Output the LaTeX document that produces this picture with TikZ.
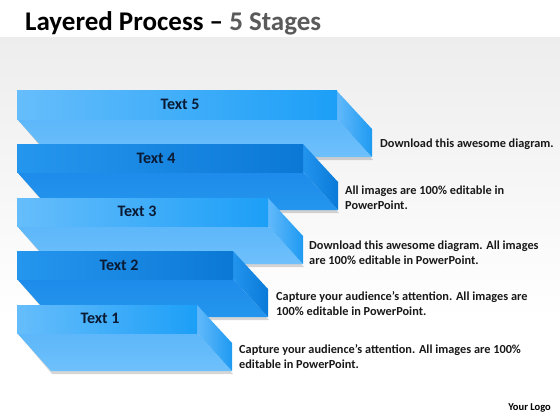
\documentclass[tikz,border=0pt]{standalone}
\usepackage{fontspec}
\setmainfont{Carlito}
\definecolor{lTopL}{HTML}{66BDFB}
\definecolor{lTopR}{HTML}{1C9FF7}
\definecolor{lBot}{HTML}{5DB7FA}
\definecolor{lBot2}{HTML}{6EC0FB}
\definecolor{lRL}{HTML}{62B9FA}
\definecolor{lRR}{HTML}{1E9AF2}
\definecolor{dTopL}{HTML}{2596EE}
\definecolor{dTopR}{HTML}{0B78D6}
\definecolor{dBot}{HTML}{1D8BEA}
\definecolor{dBot2}{HTML}{2496EE}
\definecolor{dRL}{HTML}{2294EE}
\definecolor{dRR}{HTML}{0A7AD8}
\definecolor{labelc}{HTML}{0B1A33}
\definecolor{titlegray}{HTML}{5A5A5A}
\newcommand\myslab[8]{%
  % #1 right x of front rect, #2 top y, #3 topL, #4 topR, #5 bottom face, #6 bottom face 2, #7 right L, #8 right R
  \fill[black,opacity=.16] (19,#2+30) -- (#1+2,#2+30) -- (#1+36,#2+69) -- (17+35,#2+69) -- cycle;
  \shade[top color=#5, bottom color=#6] (17,#2+28) -- (#1,#2+28) -- (#1+35,#2+66) -- (17+34,#2+66) -- cycle;
  \shade[left color=#7, right color=#8] (#1,#2) -- (#1+35,#2+38) -- (#1+35,#2+66) -- (#1,#2+28) -- cycle;
  \shade[left color=#3, right color=#4] (17,#2) rectangle (#1,#2+28);
}
\tikzset{
  lbl/.style={font=\fontsize{16}{18}\selectfont\bfseries, text=labelc, inner sep=0pt},
  desc/.style={font=\fontsize{12.3}{15}\selectfont\bfseries, text=black!90, anchor=west, align=left, inner sep=0pt}
}
\begin{document}
\begin{tikzpicture}[x=1pt,y=-1pt]
\useasboundingbox (0,0) rectangle (560,420);
\fill[white] (0,0) rectangle (560,420);
\shade[top color=black!7, bottom color=white] (0,38) rectangle (560,320);
\node[anchor=base west, inner sep=0pt, font=\fontsize{27}{31}\selectfont\bfseries] (title) at (25,31) {Layered Process -- \textcolor{titlegray}{5 Stages}};
% slabs, back to front
\myslab{337}{91}{lTopL}{lTopR}{lBot}{lBot2}{lRL}{lRR}
\myslab{303}{144}{dTopL}{dTopR}{dBot}{dBot2}{dRL}{dRR}
\myslab{268}{198}{lTopL}{lTopR}{lBot}{lBot2}{lRL}{lRR}
\myslab{233}{251}{dTopL}{dTopR}{dBot}{dBot2}{dRL}{dRR}
\myslab{197}{305}{lTopL}{lTopR}{lBot}{lBot2}{lRL}{lRR}
% labels
\node[lbl] (t5) at (180,104) {Text 5};
\node[lbl] (t4) at (156,158) {Text 4};
\node[lbl] (t3) at (137,211) {Text 3};
\node[lbl] (t2) at (119,265) {Text 2};
\node[lbl] (t1) at (100,318) {Text 1};
% descriptions
\node[desc] (d5) at (380,144) {Download this awesome diagram.};
\node[desc] (d4) at (345,198) {All images are 100\% editable in\\PowerPoint.};
\node[desc] (d3) at (309,253) {Download this awesome diagram. All images\\are 100\% editable in PowerPoint.};
\node[desc] (d2) at (276,304) {Capture your audience’s attention. All images are\\100\% editable in PowerPoint.};
\node[desc] (d1) at (239,357) {Capture your audience’s attention. All images are 100\%\\editable in PowerPoint.};
\node[anchor=east, inner sep=0pt, font=\fontsize{10.5}{12}\selectfont\bfseries] (logo) at (551,408) {Your Logo};
\end{tikzpicture}
\end{document}
